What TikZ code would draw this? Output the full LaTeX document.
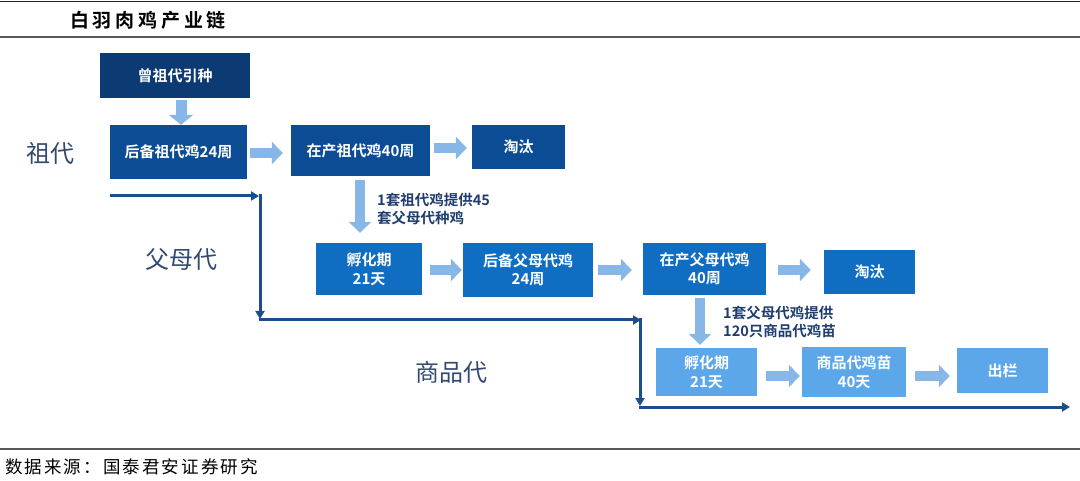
\documentclass[tikz,border=0pt]{standalone}
\usepackage{fontspec}
\setmainfont{Noto Sans CJK SC}
\newfontfamily\cjkbold{Noto Sans CJK SC Bold}
\usetikzlibrary{arrows.meta}
\definecolor{navy}{HTML}{0B3B72}
\definecolor{gblue}{HTML}{0C4C94}
\definecolor{pblue}{HTML}{0F6EC2}
\definecolor{cblue}{HTML}{5CA6EA}
\definecolor{fatc}{HTML}{86B7E6}
\definecolor{linec}{HTML}{1C4E8E}
\definecolor{lblc}{HTML}{33496E}
\definecolor{notec}{HTML}{1F3D6E}
\tikzset{
  box/.style={fill=#1, text=white, font=\cjkbold\fontsize{15}{18.5}\selectfont, align=center, inner sep=0pt},
  fat/.style={draw=fatc, line width=10pt, -{Triangle[width=22pt,length=11pt]}},
  conn/.style={draw=linec, line width=3pt, -{Triangle[width=9pt,length=8pt]}},
  gen/.style={text=lblc, font=\fontsize{24}{28}\selectfont},
  note/.style={text=notec, font=\cjkbold\fontsize{14.5}{18}\selectfont, anchor=west, inner sep=0pt},
}
\begin{document}
\begin{tikzpicture}[x=1pt,y=-1pt]
\useasboundingbox (0,0) rectangle (1080,481);
% frame lines
\draw[line width=1pt, black!85] (0,2) -- (1080,2);
\draw[line width=1.5pt, black!65] (0,37) -- (1080,37);
\draw[line width=1.3pt, black!65] (0,449) -- (1080,449);
\node[font=\cjkbold\fontsize{19}{22}\selectfont\addfontfeatures{LetterSpace=20}, anchor=west, inner sep=0pt] (title) at (70,20) {白羽肉鸡产业链};
\node[font=\fontsize{17.5}{20}\selectfont\addfontfeatures{LetterSpace=12}, anchor=west, inner sep=0pt] (src) at (5,467) {数据来源：国泰君安证券研究};
% generation labels
\node[gen] (g1) at (51,153) {祖代};
\node[gen] (g2) at (181,260) {父母代};
\node[gen] (g3) at (451,372) {商品代};
% grandparent row
\node[box=navy, minimum width=150pt, minimum height=45pt] (zz) at (175,75.5) {曾祖代引种};
\node[box=gblue, minimum width=137pt, minimum height=54pt] (hb1) at (178.5,152) {后备祖代鸡24周};
\node[box=gblue, minimum width=139pt, minimum height=51pt] (zc1) at (360.5,150.5) {在产祖代鸡40周};
\node[box=gblue, minimum width=93pt, minimum height=44pt] (tt1) at (518.5,147) {淘汰};
% parent row
\node[box=pblue, minimum width=106pt, minimum height=52pt] (fh1) at (369,269) {孵化期\\21天};
\node[box=pblue, minimum width=130pt, minimum height=54pt] (hb2) at (528,270) {后备父母代鸡\\24周};
\node[box=pblue, minimum width=123pt, minimum height=52pt] (zc2) at (704.5,269) {在产父母代鸡\\40周};
\node[box=pblue, minimum width=91pt, minimum height=44pt] (tt2) at (869.5,272) {淘汰};
% commercial row
\node[box=cblue, minimum width=101pt, minimum height=48pt] (fh2) at (706.5,372) {孵化期\\21天};
\node[box=cblue, minimum width=104pt, minimum height=50pt] (sp) at (854,372) {商品代鸡苗\\40天};
\node[box=cblue, minimum width=91pt, minimum height=45pt] (cl) at (1002.5,370.5) {出栏};
% notes
\node[note] (n1a) at (377,200) {1套祖代鸡提供45};
\node[note] (n1b) at (377,218) {套父母代种鸡};
\node[note] (n2a) at (723,313) {1套父母代鸡提供};
\node[note] (n2b) at (723,331) {120只商品代鸡苗};
% fat arrows
\draw[fat, line width=11pt, -{Triangle[width=24pt,length=10pt]}, shorten <=2pt, shorten >=0pt] (zz.south -| 181,0) -- (hb1.north -| 181,0);
\draw[fat, shorten <=3pt, shorten >=8pt] (hb1.east |- 0,153) -- (zc1.west |- 0,153);
\draw[fat, shorten <=4pt, shorten >=5pt] (zc1.east |- 0,148) -- (tt1.west |- 0,148);
\draw[fat, shorten <=4pt, shorten >=10pt] (zc1.south -| 360,0) -- (fh1.north -| 360,0);
\draw[fat, shorten <=8pt, shorten >=1pt] (fh1.east |- 0,270) -- (hb2.west |- 0,270);
\draw[fat, shorten <=5pt, shorten >=11pt] (hb2.east |- 0,270) -- (zc2.west |- 0,270);
\draw[fat, shorten <=12pt, shorten >=13pt] (zc2.east |- 0,270) -- (tt2.west |- 0,270);
\draw[fat, shorten <=3pt, shorten >=3pt] (zc2.south -| 700,0) -- (fh2.north -| 700,0);
\draw[fat, shorten <=9pt, shorten >=2pt] (fh2.east |- 0,376) -- (sp.west |- 0,376);
\draw[fat, shorten <=9pt, shorten >=7pt] (sp.east |- 0,376) -- (cl.west |- 0,376);
% dark connector lines
\coordinate (p0) at (110,196);
\coordinate (p1) at (260,196);
\coordinate (p2) at (260,320);
\coordinate (p3) at (640,320);
\coordinate (p4) at (640,407);
\coordinate (p5) at (1070,407);
\draw[conn, shorten >=1pt] (p0) -- (p1);
\draw[conn, shorten <=-1.5pt, shorten >=1pt] (p1) -- (p2);
\draw[conn, shorten <=-1.5pt, shorten >=-1pt] (p2) -- (p3);
\draw[conn, shorten <=-1.5pt, shorten >=1pt] (p3) -- (p4);
\draw[conn, shorten <=-1.5pt] (p4) -- (p5);
\end{tikzpicture}
\end{document}
